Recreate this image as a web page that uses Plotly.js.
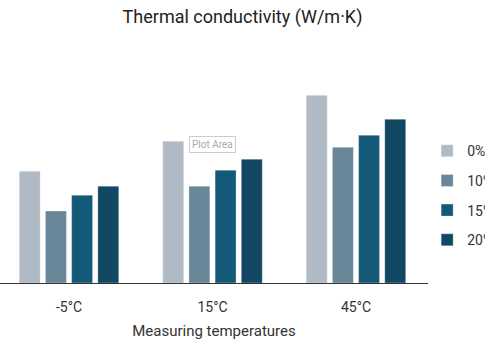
<!DOCTYPE html>
<html>
<head>
<meta charset="utf-8">
<script src="https://cdn.plot.ly/plotly-3.0.1.min.js"></script>
<style>html,body{margin:0;padding:0;background:#fff;}#chart{width:485px;height:360px;}</style>
</head>
<body>
<div id="chart"></div>
<script>
var categories = ["-5°C", "15°C", "45°C"];
var seriesNames = ["0%", "10%", "15%", "20%"];
var values0 = [0.112, 0.142, 0.188];
var values10 = [0.072, 0.097, 0.136];
var values15 = [0.088, 0.113, 0.148];
var values20 = [0.097, 0.124, 0.164];
var seriesValues = [values0, values10, values15, values20];
var colors = ["#b0bac5", "#6a8699", "#145978", "#124863"];

var traces = seriesValues.map(function (vals, i) {
  return {
    type: "bar",
    x: categories,
    y: vals,
    name: seriesNames[i],
    legendgroup: "g" + i,
    marker: { color: colors[i], line: { color: "rgba(255,255,255,0.6)", width: 0.5 } },
    hoverinfo: "none"
  };
});

var layout = {
  width: 485,
  height: 360,
  paper_bgcolor: "#ffffff",
  plot_bgcolor: "#ffffff",
  font: { family: "Roboto, sans-serif", color: "#333333" },
  margin: { l: 0, r: 57, t: 75, b: 77, pad: 0, autoexpand: false },
  title: {
    text: "Thermal conductivity (W/m·K)",
    font: { family: "Roboto, sans-serif", size: 18, color: "#222222" },
    x: 0.5, xref: "container", xanchor: "center",
    y: 1 - 17 / 360, yref: "container", yanchor: "middle"
  },
  barmode: "group",
  bargap: 0.27,
  bargroupgap: 0.2,
  showlegend: true,
  legend: {
    x: 0.998, xanchor: "left", y: 0.711, yanchor: "top",
    font: { family: "Roboto, sans-serif", size: 14, color: "#333333" },
    tracegroupgap: 8.5,
    bgcolor: "rgba(0,0,0,0)"
  },
  xaxis: {
    type: "category",
    range: [-0.481, 2.502],
    showline: true, linecolor: "#333333", linewidth: 1.2,
    ticks: "", showgrid: false, zeroline: false,
    tickfont: { family: "Roboto, sans-serif", size: 14, color: "#333333" },
    ticklabelstandoff: 11,
    title: { text: "Measuring temperatures", font: { family: "Roboto, sans-serif", size: 15, color: "#333333" }, standoff: 11 }
  },
  yaxis: {
    range: [0, 0.2083],
    visible: false, showgrid: false, zeroline: false
  },
  annotations: [{
    text: "Plot Area",
    xref: "paper", yref: "paper",
    x: 212 / 428, y: (283.3 - 144.5) / 208.3,
    xanchor: "center", yanchor: "middle",
    showarrow: false,
    font: { family: "Roboto, sans-serif", size: 10, color: "#aaaaaa" },
    bgcolor: "#ffffff", bordercolor: "#cccccc", borderwidth: 1, borderpad: 2
  }]
};

Plotly.newPlot("chart", traces, layout, { staticPlot: true, displayModeBar: false });
</script>
</body>
</html>
